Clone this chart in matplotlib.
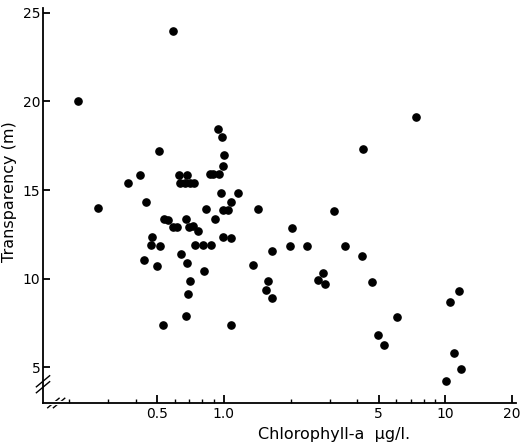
"""
Transparency vs chlorophyll-a scatter (log x axis).
"""

import matplotlib
matplotlib.use("Agg")
import matplotlib.pyplot as plt
import numpy as np

# chlorophyll-a (ug/l) and transparency (m)
chl = [0.221, 0.589, 0.27, 0.369, 0.42, 0.508, 0.445, 0.627, 0.68,
       0.637, 0.667, 0.702, 0.733,
       0.94, 0.98, 1.0, 0.99, 0.87, 0.89, 0.95, 0.97, 1.157, 1.075,
       1.05, 0.99, 0.83, 1.43, 0.91, 0.674, 0.536, 0.559,
       0.589, 0.613, 0.695, 0.724, 0.763, 0.473, 0.468, 0.514,
       0.74, 0.804, 0.874, 0.99, 1.075, 0.64, 0.435, 0.499, 0.681,
       0.812, 0.702, 0.688, 0.674, 0.530, 1.075,
       4.24, 7.36, 3.14, 2.03, 1.647, 1.99, 2.37, 3.52, 4.2, 1.35,
       2.80, 2.66, 2.86, 4.66, 1.58, 1.55, 1.647,
       6.04, 4.96, 5.28, 10.48, 11.5, 10.9, 11.75, 10.05]
transp = [20.0, 24.0, 14.0, 15.4, 15.85, 17.2, 14.3, 15.85, 15.85,
          15.4, 15.4, 15.4, 15.4,
          18.45, 18.0, 17.0, 16.35, 15.9, 15.9, 15.9, 14.85, 14.85, 14.3,
          13.85, 13.85, 13.9, 13.9, 13.35, 13.35, 13.35, 13.3,
          12.9, 12.9, 12.9, 12.95, 12.7, 12.35, 11.9, 11.85,
          11.9, 11.9, 11.9, 12.35, 12.3, 11.4, 11.05, 10.7, 10.9,
          10.4, 9.85, 9.1, 7.9, 7.4, 7.4,
          17.3, 19.1, 13.8, 12.85, 11.55, 11.85, 11.85, 11.85, 11.3, 10.75,
          10.3, 9.9, 9.7, 9.8, 9.85, 9.35, 8.9,
          7.8, 6.8, 6.25, 8.7, 9.3, 5.8, 4.9, 4.2]

x_ticks = [0.5, 1.0, 5, 10, 20]
x_tick_labels = ["0.5", "1.0", "5", "10", "20"]
x_minor = [0.2, 0.3, 0.4, 0.6, 0.7, 0.8, 0.9, 2, 3, 4, 6, 7, 8, 9]
y_ticks = [5, 10, 15, 20, 25]

fig = plt.figure(figsize=(5.32, 4.45), dpi=100)
ax = fig.add_axes([43 / 532, 42 / 445, 473 / 532, 395 / 445])

ax.plot(chl, transp, "o", color="black", markersize=5.2, linestyle="none")

ax.set_xscale("log")
ax.set_xlim(0.153, 20.8)
ax.set_ylim(2.97, 25.28)

ax.spines["top"].set_visible(False)
ax.spines["right"].set_visible(False)
ax.spines["left"].set_linewidth(1.3)
ax.spines["bottom"].set_linewidth(1.3)

ax.set_xticks(x_ticks)
ax.set_xticklabels(x_tick_labels)
ax.set_xticks(x_minor, minor=True)
ax.xaxis.set_minor_formatter(matplotlib.ticker.NullFormatter())
ax.set_yticks(y_ticks)

ax.tick_params(axis="x", which="major", direction="in", length=6, width=1.3,
               labelsize=10, pad=3)
ax.tick_params(axis="x", which="minor", direction="in", length=3, width=1.0)
ax.tick_params(axis="y", which="major", direction="in", length=5, width=1.3,
               labelsize=10, pad=2)
ax.tick_params(axis="y", which="minor", left=False)

ax.set_xlabel("Chlorophyll-a  \u03bcg/l.", fontsize=11.5)
ax.xaxis.set_label_coords(0.615, -0.062)
ax.set_ylabel("Transparency (m)", fontsize=11.5)
ax.yaxis.set_label_coords(-0.054, 0.534)

# axis break marks
kw = dict(transform=ax.transAxes, color="black", lw=1.0, clip_on=False)
for dx in (0.022, 0.034):
    ax.plot([dx - 0.012, dx + 0.012], [-0.012, 0.012], **kw)
ax.plot([0.018, 0.038], [0.0, 0.0], transform=ax.transAxes, color="white",
        lw=3, clip_on=False, zorder=2)
for dy in (0.04, 0.055):
    ax.plot([-0.014, 0.014], [dy - 0.014, dy + 0.014], **kw)

plt.savefig("out.png", dpi=100)
